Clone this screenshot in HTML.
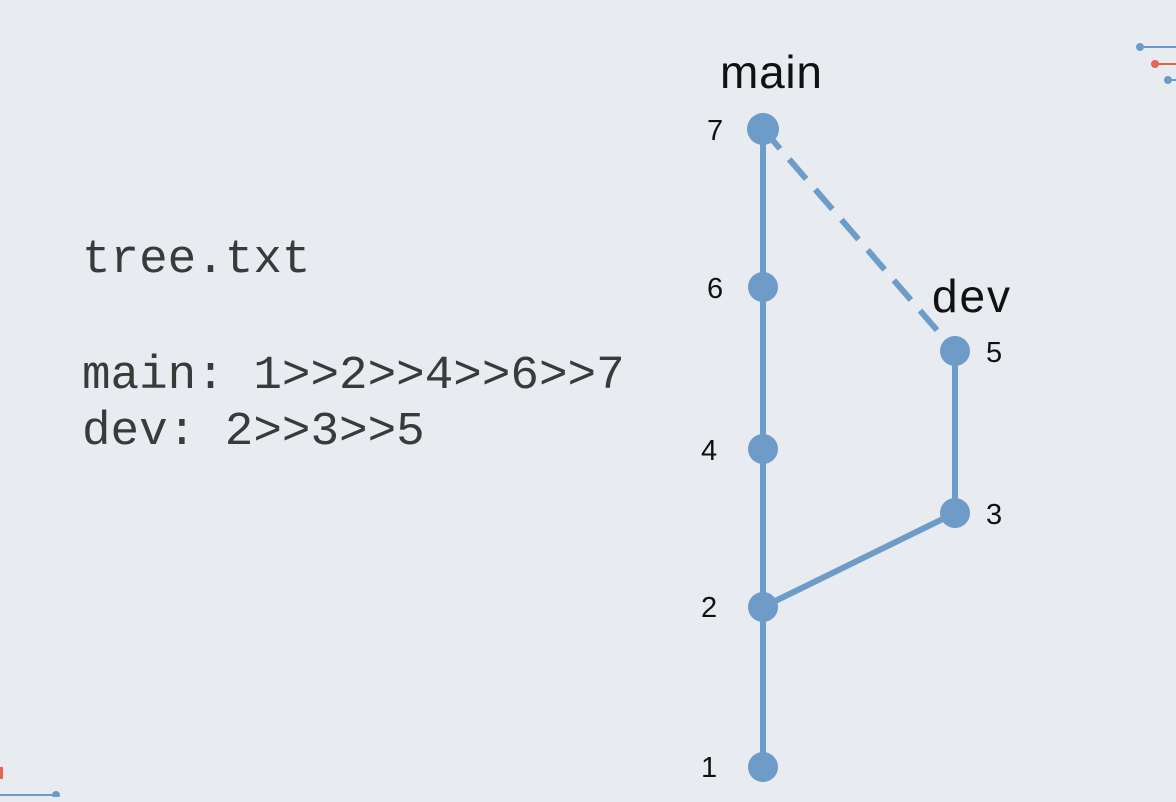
<!DOCTYPE html>
<html><head><style>
body{margin:0;width:1176px;height:797px;background:#e8ebf0;overflow:hidden}
</style></head><body>
<svg width="1176" height="797" xmlns="http://www.w3.org/2000/svg">
<rect width="1176" height="797" fill="#e8ebf0"/>
<g font-family="Liberation Mono, monospace" font-size="47.6" fill="#3a3a3a">
<text x="82" y="272">tree.txt</text>
<text x="82" y="388">main: 1&gt;&gt;2&gt;&gt;4&gt;&gt;6&gt;&gt;7</text>
<text x="82" y="444">dev: 2&gt;&gt;3&gt;&gt;5</text>
</g>
<g stroke="#6d9cc8" stroke-width="6" fill="none">
<line x1="763" y1="129" x2="763" y2="767"/>
<line x1="763" y1="607" x2="955" y2="513"/>
<line x1="955" y1="513" x2="955" y2="351"/>
<line x1="763" y1="129" x2="955" y2="351" stroke-dasharray="26,14"/>
</g>
<g fill="#6d9cc8">
<circle cx="763" cy="129" r="16"/>
<circle cx="763" cy="287" r="15"/>
<circle cx="763" cy="449" r="15"/>
<circle cx="763" cy="607" r="15"/>
<circle cx="763" cy="767" r="15"/>
<circle cx="955" cy="351" r="15"/>
<circle cx="955" cy="513" r="15"/>
</g>
<g font-family="Liberation Sans, sans-serif" fill="#111">
<text x="720" y="88" font-size="46" textLength="102">main</text>
<text x="932" y="312" font-size="46" textLength="78">dev</text>
<g font-size="29">
<text x="707" y="140">7</text>
<text x="707" y="298">6</text>
<text x="701" y="460">4</text>
<text x="701" y="617">2</text>
<text x="701" y="777">1</text>
<text x="986" y="362">5</text>
<text x="986" y="524">3</text>
</g>
</g>
<g stroke-width="2">
<line x1="1140" y1="47" x2="1176" y2="47" stroke="#6d9cc8"/><circle cx="1140" cy="47" r="4" fill="#6d9cc8"/>
<line x1="1155" y1="64" x2="1176" y2="64" stroke="#e8644a"/><circle cx="1155" cy="64" r="4" fill="#e8644a"/>
<line x1="1168" y1="80" x2="1176" y2="80" stroke="#6d9cc8"/><circle cx="1168" cy="80" r="4" fill="#6d9cc8"/>
<line x1="0" y1="795" x2="56" y2="795" stroke="#6d9cc8"/><circle cx="56" cy="795" r="4" fill="#6d9cc8"/>
</g>
<rect x="0" y="767" width="3" height="12" fill="#e8644a"/>
</svg>
</body></html>
